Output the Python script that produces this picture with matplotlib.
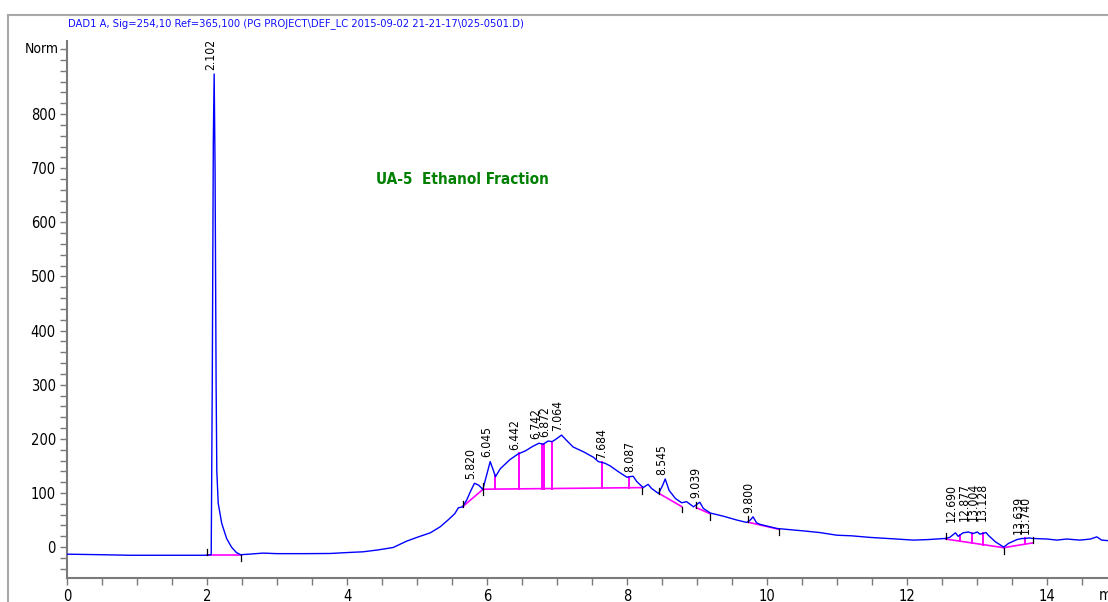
import numpy as np
import matplotlib
matplotlib.use('Agg')
import matplotlib.pyplot as plt
from matplotlib.ticker import MultipleLocator, FixedLocator
from matplotlib.lines import Line2D

plt.rcParams['font.family'] = ['Liberation Sans Narrow', 'DejaVu Sans Condensed', 'DejaVu Sans']
plt.rcParams['font.stretch'] = 'condensed'

########################################################
### Datos del cromatograma (min, Norm)
########################################################
tiempo = [0.0, 0.5, 0.9, 1.5, 1.98, 2.06, 2.075, 2.09, 2.102, 2.115, 2.13, 2.14, 2.16,
          2.21, 2.28, 2.35, 2.42, 2.48, 2.6, 2.8, 3.0, 3.4, 3.76, 4.0, 4.23, 4.45,
          4.66, 4.85, 5.02, 5.19, 5.33, 5.45, 5.54, 5.59, 5.65, 5.71, 5.76, 5.82,
          5.88, 5.94, 6.0, 6.045, 6.09, 6.12, 6.19, 6.33, 6.442, 6.55, 6.65, 6.742,
          6.8, 6.872, 6.93, 6.98, 7.064, 7.13, 7.23, 7.38, 7.52, 7.59, 7.684, 7.76,
          7.88, 8.0, 8.03, 8.087, 8.14, 8.23, 8.3, 8.35, 8.45, 8.51, 8.545, 8.6,
          8.69, 8.78, 8.85, 8.95, 9.039, 9.09, 9.19, 9.38, 9.57, 9.71, 9.76, 9.8,
          9.85, 9.9, 10.14, 10.52, 10.75, 11.0, 11.2, 11.47, 11.85, 12.09, 12.3,
          12.54, 12.61, 12.69, 12.73, 12.8, 12.877, 12.94, 13.004, 13.04, 13.128,
          13.16, 13.26, 13.38, 13.45, 13.57, 13.639, 13.69, 13.74, 13.8, 14.0,
          14.14, 14.28, 14.47, 14.62, 14.71, 14.78, 14.87]
senal = [-13, -14, -15, -15, -15, -14, 300, 750, 874, 700, 300, 140, 81,
         44, 16, 0, -10, -14, -13, -11, -12, -12, -11.7, -10, -8.6, -5,
         -0.6, 11, 19, 26.5, 37.5, 51, 62, 72.6, 74.5, 87, 102, 118,
         114.6, 106.6, 136, 158, 142, 130, 145, 162, 172, 178, 186, 192,
         190, 196, 195, 199, 207, 198, 185, 176, 166, 158, 155, 150,
         139, 129, 130, 131, 121, 110, 116, 108.5, 99, 114.6, 126, 105,
         90, 82, 84, 74.5, 83, 71.5, 63, 57, 50, 45.6, 50, 56,
         45, 42, 34.5, 30, 27, 22, 21, 18, 15, 13, 14,
         16, 18, 26.5, 20, 26.5, 28, 25, 28, 24, 27,
         22, 10, 0, 7, 14, 16, 16, 17, 16, 15,
         13, 15, 13, 15, 19, 13, 12]

# tiempos de retencion rotulados
picos_t = [2.102, 5.820, 6.045, 6.442, 6.742, 6.872, 7.064, 7.684, 8.087, 8.545,
           9.039, 9.800, 12.690, 12.877, 13.004, 13.128, 13.639, 13.740]
picos_lbl = ['2.102', '5.820', '6.045', '6.442', '6.742', '6.872', '7.064', '7.684',
             '8.087', '8.545', '9.039', '9.800', '12.690', '12.877', '13.004',
             '13.128', '13.639', '13.740']

# lineas base de integracion
base_t0 = [1.996, 5.65, 5.94, 8.46, 8.99, 9.73, 12.55, 13.38]
base_v0 = [-14.5, 74.5, 107, 99, 73, 46, 15, -1]
base_t1 = [2.48, 5.94, 8.22, 8.78, 9.18, 10.17, 13.38, 13.80]
base_v1 = [-14.5, 106.6, 110, 75, 62, 33, -1, 8]

# separaciones entre picos
drops_t = [6.11, 6.46, 6.79, 6.81, 6.93, 7.64, 8.03, 12.76, 12.93, 13.09, 13.69]

# marcas de inicio / fin de pico
marca_sube = [1.996, 5.65, 5.94, 8.46, 8.99, 9.73, 12.55, 13.80]
marca_baja = [2.48, 5.94, 8.22, 8.78, 9.18, 10.17, 13.38]


def valor_base(t):
    for a, va, b, vb in zip(base_t0, base_v0, base_t1, base_v1):
        if a <= t <= b:
            return va + (vb - va) * (t - a) / (b - a)
    return np.nan


def valor_base_marca(t):
    for a, va, b, vb in zip(base_t0, base_v0, base_t1, base_v1):
        if abs(t - a) < 1e-6:
            return va
        if abs(t - b) < 1e-6:
            return vb
    return np.interp(t, tiempo, senal)


########################################################
### Grafico
########################################################
fig = plt.figure(figsize=(11.08, 6.02), dpi=100)
ax = fig.add_axes([67/1108, 24/602, 1 - 67/1108, (578-41)/602])

gris = '#7a7a7a'
ax.plot(tiempo, senal, color='#0000ff', lw=1.0, zorder=3)

for a, va, b, vb in zip(base_t0, base_v0, base_t1, base_v1):
    ax.plot([a, b], [va, vb], color='#ff00ff', lw=1.2, zorder=2)

for t in drops_t:
    ax.plot([t, t], [valor_base(t), np.interp(t, tiempo, senal)], color='#ff00ff', lw=1.4, zorder=2)

for t in marca_sube:
    v = valor_base_marca(t)
    ax.plot([t, t], [v, v + 11], color='black', lw=0.9, zorder=4)
for t in marca_baja:
    v = valor_base_marca(t)
    ax.plot([t, t], [v, v - 11], color='black', lw=0.9, zorder=4)

# los rotulos del grupo de 12.6-13.2 van algo mas arriba
for t, lbl in zip(picos_t, picos_lbl):
    dy = 8 if 12.5 < t < 13.3 else 3
    ax.annotate(lbl, (t, np.interp(t, tiempo, senal)), xytext=(2, dy), textcoords='offset points',
                rotation=90, ha='right', va='bottom', fontsize=8.7, color='black', zorder=5)

ax.text(4.41, 680, 'UA-5  Ethanol Fraction', color='#008000', fontsize=11,
        fontweight='bold', ha='left', va='center')

ax.set_xlim(0, 14.87)
ax.set_ylim(-57, 935)
ax.xaxis.set_major_locator(FixedLocator([0, 2, 4, 6, 8, 10, 12, 14]))
ax.xaxis.set_minor_locator(MultipleLocator(0.5))
ax.yaxis.set_major_locator(FixedLocator([0, 100, 200, 300, 400, 500, 600, 700, 800]))
ax.yaxis.set_minor_locator(FixedLocator(np.arange(-40, 921, 20)))
ax.tick_params(which='both', direction='out', length=5, width=1.0, colors=gris,
               labelcolor='black', labelsize=10.5, pad=3)
for s in ['top', 'right']:
    ax.spines[s].set_visible(False)
for s in ['left', 'bottom']:
    ax.spines[s].set_color(gris)
    ax.spines[s].set_linewidth(1.5)

ax.text(-0.12, 920, 'Norm', ha='right', va='center', fontsize=10)

fig.text(68/1108, 1 - 24/602,
         'DAD1 A, Sig=254,10 Ref=365,100 (PG PROJECT\\DEF_LC 2015-09-02 21-21-17\\025-0501.D)',
         color='#1010ff', fontsize=8, ha='left', va='center')
fig.text(1099/1108, 1 - 596/602, 'min', fontsize=10.5, ha='left', va='center')

# marco exterior
fig.add_artist(Line2D([8/1108, 8/1108], [0, 1 - 15/602], transform=fig.transFigure,
                      color='#a8a8a8', lw=1.5))
fig.add_artist(Line2D([8/1108, 1], [1 - 15/602, 1 - 15/602], transform=fig.transFigure,
                      color='#a8a8a8', lw=1.5))

fig.savefig('out.png', dpi=100)
